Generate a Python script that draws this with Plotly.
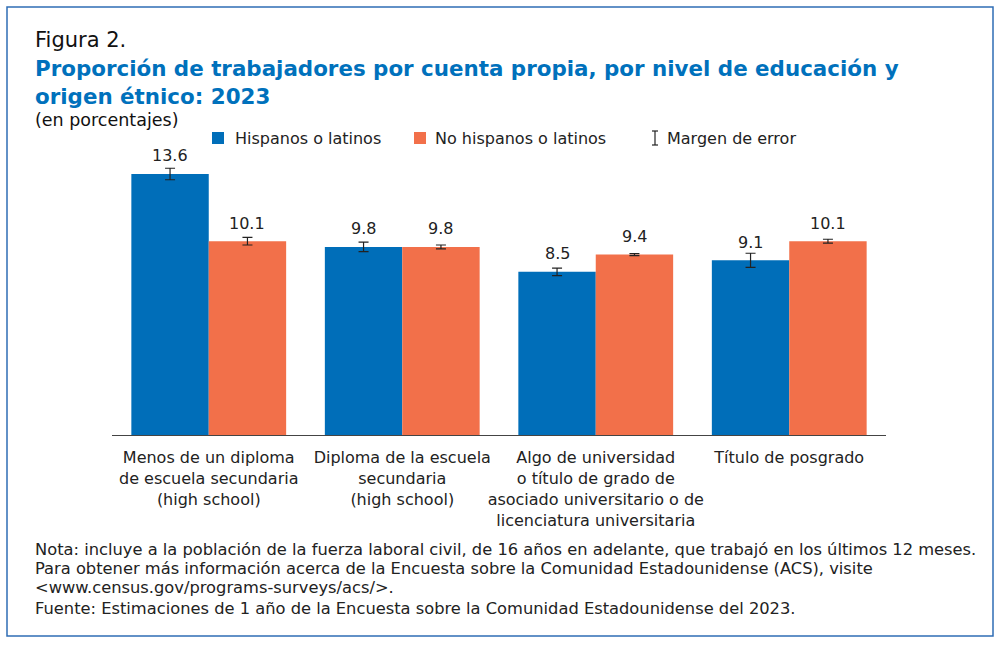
import plotly.graph_objects as go

categories = [
    "Menos de un diploma<br>de escuela secundaria<br>(high school)",
    "Diploma de la escuela<br>secundaria<br>(high school)",
    "Algo de universidad<br>o título de grado de<br>asociado universitario o de<br>licenciatura universitaria",
    "Título de posgrado",
]
hispanic = [13.6, 9.8, 8.5, 9.1]
hispanic_moe = [0.3, 0.25, 0.2, 0.37]
non_hispanic = [10.1, 9.8, 9.4, 10.1]
non_hispanic_moe = [0.2, 0.1, 0.05, 0.1]

note_lines = [
    "Nota: incluye a la población de la fuerza laboral civil, de 16 años en adelante, que trabajó en los últimos 12 meses.",
    "Para obtener más información acerca de la Encuesta sobre la Comunidad Estadounidense (ACS), visite",
    "&lt;www.census.gov/programs-surveys/acs/&gt;.",
    "Fuente: Estimaciones de 1 año de la Encuesta sobre la Comunidad Estadounidense del 2023.",
]

BLUE = "#006EB9"
ORANGE = "#F2704A"
TITLE_BLUE = "#0071BC"
FONT = "DejaVu Sans"
TXT = "#222"

x_idx = list(range(len(categories)))

fig = go.Figure()
fig.add_trace(go.Bar(
    x=x_idx, y=hispanic, name="Hispanos o latinos", marker_color=BLUE,
    marker_line_width=0,
    error_y=dict(type="data", array=hispanic_moe, color="#222", thickness=1.2, width=5),
))
fig.add_trace(go.Bar(
    x=x_idx, y=non_hispanic, name="No hispanos o latinos", marker_color=ORANGE,
    marker_line_width=0,
    error_y=dict(type="data", array=non_hispanic_moe, color="#222", thickness=1.2, width=5),
))

annotations = []
for i, v in enumerate(hispanic):
    annotations.append(dict(x=i - 0.2, y=v, xref="x", yref="y", text=f"{v:.1f}",
                            showarrow=False, yanchor="middle", yshift=18,
                            font=dict(size=16, color=TXT, family=FONT)))
for i, v in enumerate(non_hispanic):
    annotations.append(dict(x=i + 0.2, y=v, xref="x", yref="y", text=f"{v:.1f}",
                            showarrow=False, yanchor="middle", yshift=18,
                            font=dict(size=16, color=TXT, family=FONT)))

paper_ann = [
    dict(x=33, y=40, text="Figura 2.", font=dict(size=21, color="#111", family=FONT)),
    dict(x=33, y=83,
         text="<b>Proporción de trabajadores por cuenta propia, por nivel de educación y<br>origen étnico: 2023</b>",
         font=dict(size=21.4, color=TITLE_BLUE, family=FONT)),
    dict(x=33, y=120, text="(en porcentajes)", font=dict(size=17.5, color="#111", family=FONT)),
    # legend
    dict(x=233, y=138, text="Hispanos o latinos", font=dict(size=16, color=TXT, family=FONT)),
    dict(x=433, y=138, text="No hispanos o latinos", font=dict(size=16, color=TXT, family=FONT)),
    dict(x=665, y=138, text="Margen de error", font=dict(size=16, color=TXT, family=FONT)),
]
for line, yy in zip(note_lines, [549, 568, 587, 608]):
    paper_ann.append(dict(x=33, y=yy, text=line, font=dict(size=16.3, color=TXT, family=FONT)))

W, H = 1000, 645
L, R, T, B = 112, 114, 150, 210
pw, ph = W - L - R, H - T - B


def px(x, y):
    return (x - L) / pw, (H - B - y) / ph


for a in paper_ann:
    ax, ay = px(a["x"], a["y"])
    a.update(x=ax, y=ay, xref="paper", yref="paper", showarrow=False,
             xanchor="left", yanchor="middle", align="left")
    annotations.append(a)

shapes = []
x0, y0 = px(7, 7)
x1, y1 = px(993, 636)
shapes.append(dict(type="rect", xref="paper", yref="paper", x0=x0, y0=y0, x1=x1, y1=y1,
                   line=dict(color="#2F6DB5", width=1.5), layer="below"))
for cx, col in [(218, BLUE), (420, ORANGE)]:
    a0, b0 = px(cx - 6, 132)
    a1, b1 = px(cx + 6, 144)
    shapes.append(dict(type="rect", xref="paper", yref="paper", x0=a0, y0=b1, x1=a1, y1=b0,
                       fillcolor=col, line=dict(width=0)))
for (xa, ya, xb, yb) in [(655, 131, 655, 145), (652, 131, 658, 131), (652, 145, 658, 145)]:
    a0, b0 = px(xa, ya)
    a1, b1 = px(xb, yb)
    shapes.append(dict(type="line", xref="paper", yref="paper", x0=a0, y0=b0, x1=a1, y1=b1,
                       line=dict(color="#222", width=1.2)))

fig.update_layout(
    width=W, height=H,
    margin=dict(l=L, r=R, t=T, b=B, pad=0),
    paper_bgcolor="white", plot_bgcolor="white",
    barmode="group", bargap=0.2, bargroupgap=0,
    showlegend=False,
    annotations=annotations, shapes=shapes,
    font=dict(family=FONT, color=TXT),
)
fig.update_xaxes(
    tickvals=x_idx, ticktext=categories, range=[-0.5, 3.5],
    showline=True, linecolor="#444", linewidth=1, ticks="",
    tickangle=0, ticklabelstandoff=8,
    tickfont=dict(size=16, color=TXT, family=FONT), showgrid=False,
)
fig.update_yaxes(range=[0, 14.85], visible=False, showgrid=False)

fig.write_html("out.html", config={"displayModeBar": False},
               post_script="document.body.style.margin='0';")
